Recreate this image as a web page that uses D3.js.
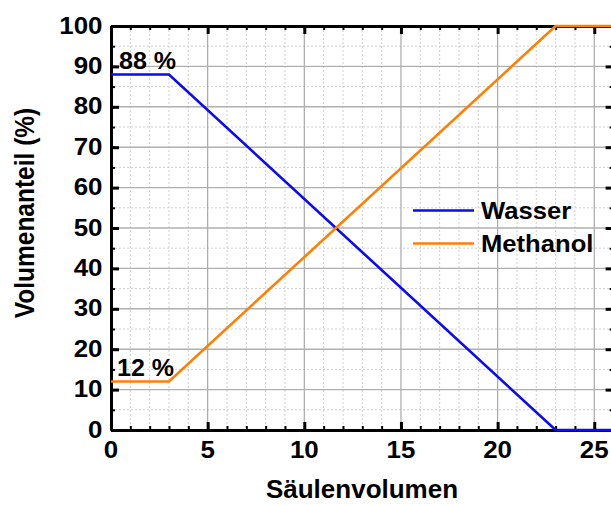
<!DOCTYPE html>
<html>
<head>
<meta charset="utf-8">
<script src="https://cdn.jsdelivr.net/npm/d3@7"></script>
<style>
  html, body { margin: 0; padding: 0; background: #ffffff; }
  svg { display: block; }
  text { font-family: "Liberation Sans", Arial, sans-serif; font-weight: bold; fill: #000; }
</style>
</head>
<body>
<svg id="chart" width="611" height="505"></svg>
<script>
// Gradient profile: column volumes vs. solvent fraction
const columnVolumes = [0, 3, 23, 26];
const wasser = [88, 88, 0, 0];
const methanol = [12, 12, 100, 100];
const seriesNames = ["Wasser", "Methanol"];
const seriesColors = ["#0a0af5", "#ff8000"];
const xTicks = [0, 5, 10, 15, 20, 25];
const yTicks = [0, 10, 20, 30, 40, 50, 60, 70, 80, 90, 100];
const xTitle = "Säulenvolumen";
const yTitle = "Volumenanteil (%)";

const svg = d3.select("#chart");

const x = d3.scaleLinear().domain([0, 26]).range([111, 613.6]);
const y = d3.scaleLinear().domain([0, 100]).range([430, 26]);
const [x0, x1] = x.range();
const [yb, yt] = y.range();

// grid: dotted minor lines, solid major lines
const minorX = d3.range(1, 26, 1).filter(v => v % 5 !== 0);
const minorY = d3.range(5, 100, 10);
const grid = svg.append("g");
grid.selectAll(".mx").data(minorX).join("line")
  .attr("x1", d => x(d)).attr("x2", d => x(d)).attr("y1", yt).attr("y2", yb)
  .attr("stroke", "#cfcfcf").attr("stroke-width", 1).attr("stroke-dasharray", "2,2");
grid.selectAll(".my").data(minorY).join("line")
  .attr("x1", x0).attr("x2", x1).attr("y1", d => y(d)).attr("y2", d => y(d))
  .attr("stroke", "#cfcfcf").attr("stroke-width", 1).attr("stroke-dasharray", "2,2");
grid.selectAll(".Mx").data(xTicks.filter(v => v > 0)).join("line")
  .attr("x1", d => x(d)).attr("x2", d => x(d)).attr("y1", yt).attr("y2", yb)
  .attr("stroke", "#a8a8a8").attr("stroke-width", 1.2);
grid.selectAll(".My").data(yTicks.filter(v => v > 0 && v < 100)).join("line")
  .attr("x1", x0).attr("x2", x1).attr("y1", d => y(d)).attr("y2", d => y(d))
  .attr("stroke", "#b0b0b0").attr("stroke-width", 1.4);

// axes with inward ticks on all four sides
function styleAxis(g) {
  g.selectAll("path.domain").attr("stroke", "#000").attr("stroke-width", 3);
  g.selectAll(".tick line").attr("stroke", "#000");
  g.selectAll(".tick text").remove();
}
const minorXAll = d3.range(0, 27, 1);
const minorYAll = d3.range(0, 101, 5);

svg.append("g").attr("transform", `translate(0,${yb})`)
  .call(d3.axisBottom(x).tickValues(minorXAll).tickSize(-4).tickSizeOuter(0))
  .call(styleAxis).selectAll(".tick line").attr("stroke-width", 2);
svg.append("g").attr("transform", `translate(0,${yb})`)
  .call(d3.axisBottom(x).tickValues(xTicks).tickSize(-8).tickSizeOuter(0))
  .call(styleAxis).selectAll(".tick line").attr("stroke-width", 3);
svg.append("g").attr("transform", `translate(0,${yt})`)
  .call(d3.axisTop(x).tickValues(minorXAll).tickSize(-4).tickSizeOuter(0))
  .call(styleAxis).selectAll(".tick line").attr("stroke-width", 2);
svg.append("g").attr("transform", `translate(0,${yt})`)
  .call(d3.axisTop(x).tickValues(xTicks).tickSize(-8).tickSizeOuter(0))
  .call(styleAxis).selectAll(".tick line").attr("stroke-width", 3);
svg.append("g").attr("transform", `translate(${x0},0)`)
  .call(d3.axisLeft(y).tickValues(minorYAll).tickSize(-4).tickSizeOuter(0))
  .call(styleAxis).selectAll(".tick line").attr("stroke-width", 2);
svg.append("g").attr("transform", `translate(${x0},0)`)
  .call(d3.axisLeft(y).tickValues(yTicks).tickSize(-8).tickSizeOuter(0))
  .call(styleAxis).selectAll(".tick line").attr("stroke-width", 3);
svg.append("g").attr("transform", `translate(${x1},0)`)
  .call(d3.axisRight(y).tickValues(minorYAll).tickSize(-4).tickSizeOuter(0))
  .call(styleAxis).selectAll(".tick line").attr("stroke-width", 2);
svg.append("g").attr("transform", `translate(${x1},0)`)
  .call(d3.axisRight(y).tickValues(yTicks).tickSize(-8).tickSizeOuter(0))
  .call(styleAxis).selectAll(".tick line").attr("stroke-width", 3);

// tick labels
svg.append("g").selectAll("text").data(xTicks).join("text")
  .attr("transform", d => `translate(${x(d)},${yb + 28}) scale(1.08,1)`)
  .attr("text-anchor", "middle").attr("font-size", 24).text(d => d);
svg.append("g").selectAll("text").data(yTicks).join("text")
  .attr("transform", d => `translate(${x0 - 8.5},${y(d) + 7.5}) scale(1.08,1)`)
  .attr("text-anchor", "end").attr("font-size", 24).text(d => d);

// axis titles
svg.append("text")
  .attr("transform", `translate(${362},${498}) scale(1.04,1)`)
  .attr("text-anchor", "middle").attr("font-size", 25).text(xTitle);
svg.append("text")
  .attr("transform", `translate(${34},${213}) scale(1.1,1) rotate(-90)`)
  .attr("text-anchor", "middle").attr("font-size", 24.5).text(yTitle);

// series lines
const line = d3.line().x((d, i) => x(columnVolumes[i])).y(d => y(d));
[wasser, methanol].forEach((vals, k) => {
  svg.append("path").datum(vals)
    .attr("fill", "none").attr("stroke", seriesColors[k]).attr("stroke-width", 2.6)
    .attr("stroke-linejoin", "miter").attr("d", line);
});

// start-value annotations
svg.append("text")
  .attr("transform", `translate(119,${y(wasser[0]) - 5}) scale(1.09,1)`)
  .attr("font-size", 23).text(`${wasser[0]} %`);
svg.append("text")
  .attr("transform", `translate(117,${y(methanol[0]) - 6}) scale(1.09,1)`)
  .attr("font-size", 23).text(`${methanol[0]} %`);

// legend
const legend = svg.append("g");
seriesNames.forEach((name, k) => {
  const ly = 210.5 + k * 33;
  legend.append("line").attr("x1", 413).attr("x2", 474).attr("y1", ly).attr("y2", ly)
    .attr("stroke", seriesColors[k]).attr("stroke-width", 2.6);
  legend.append("text")
    .attr("transform", `translate(481,${ly + 8.5}) scale(1.09,1)`)
    .attr("font-size", 23.5).text(name);
});
</script>
</body>
</html>
